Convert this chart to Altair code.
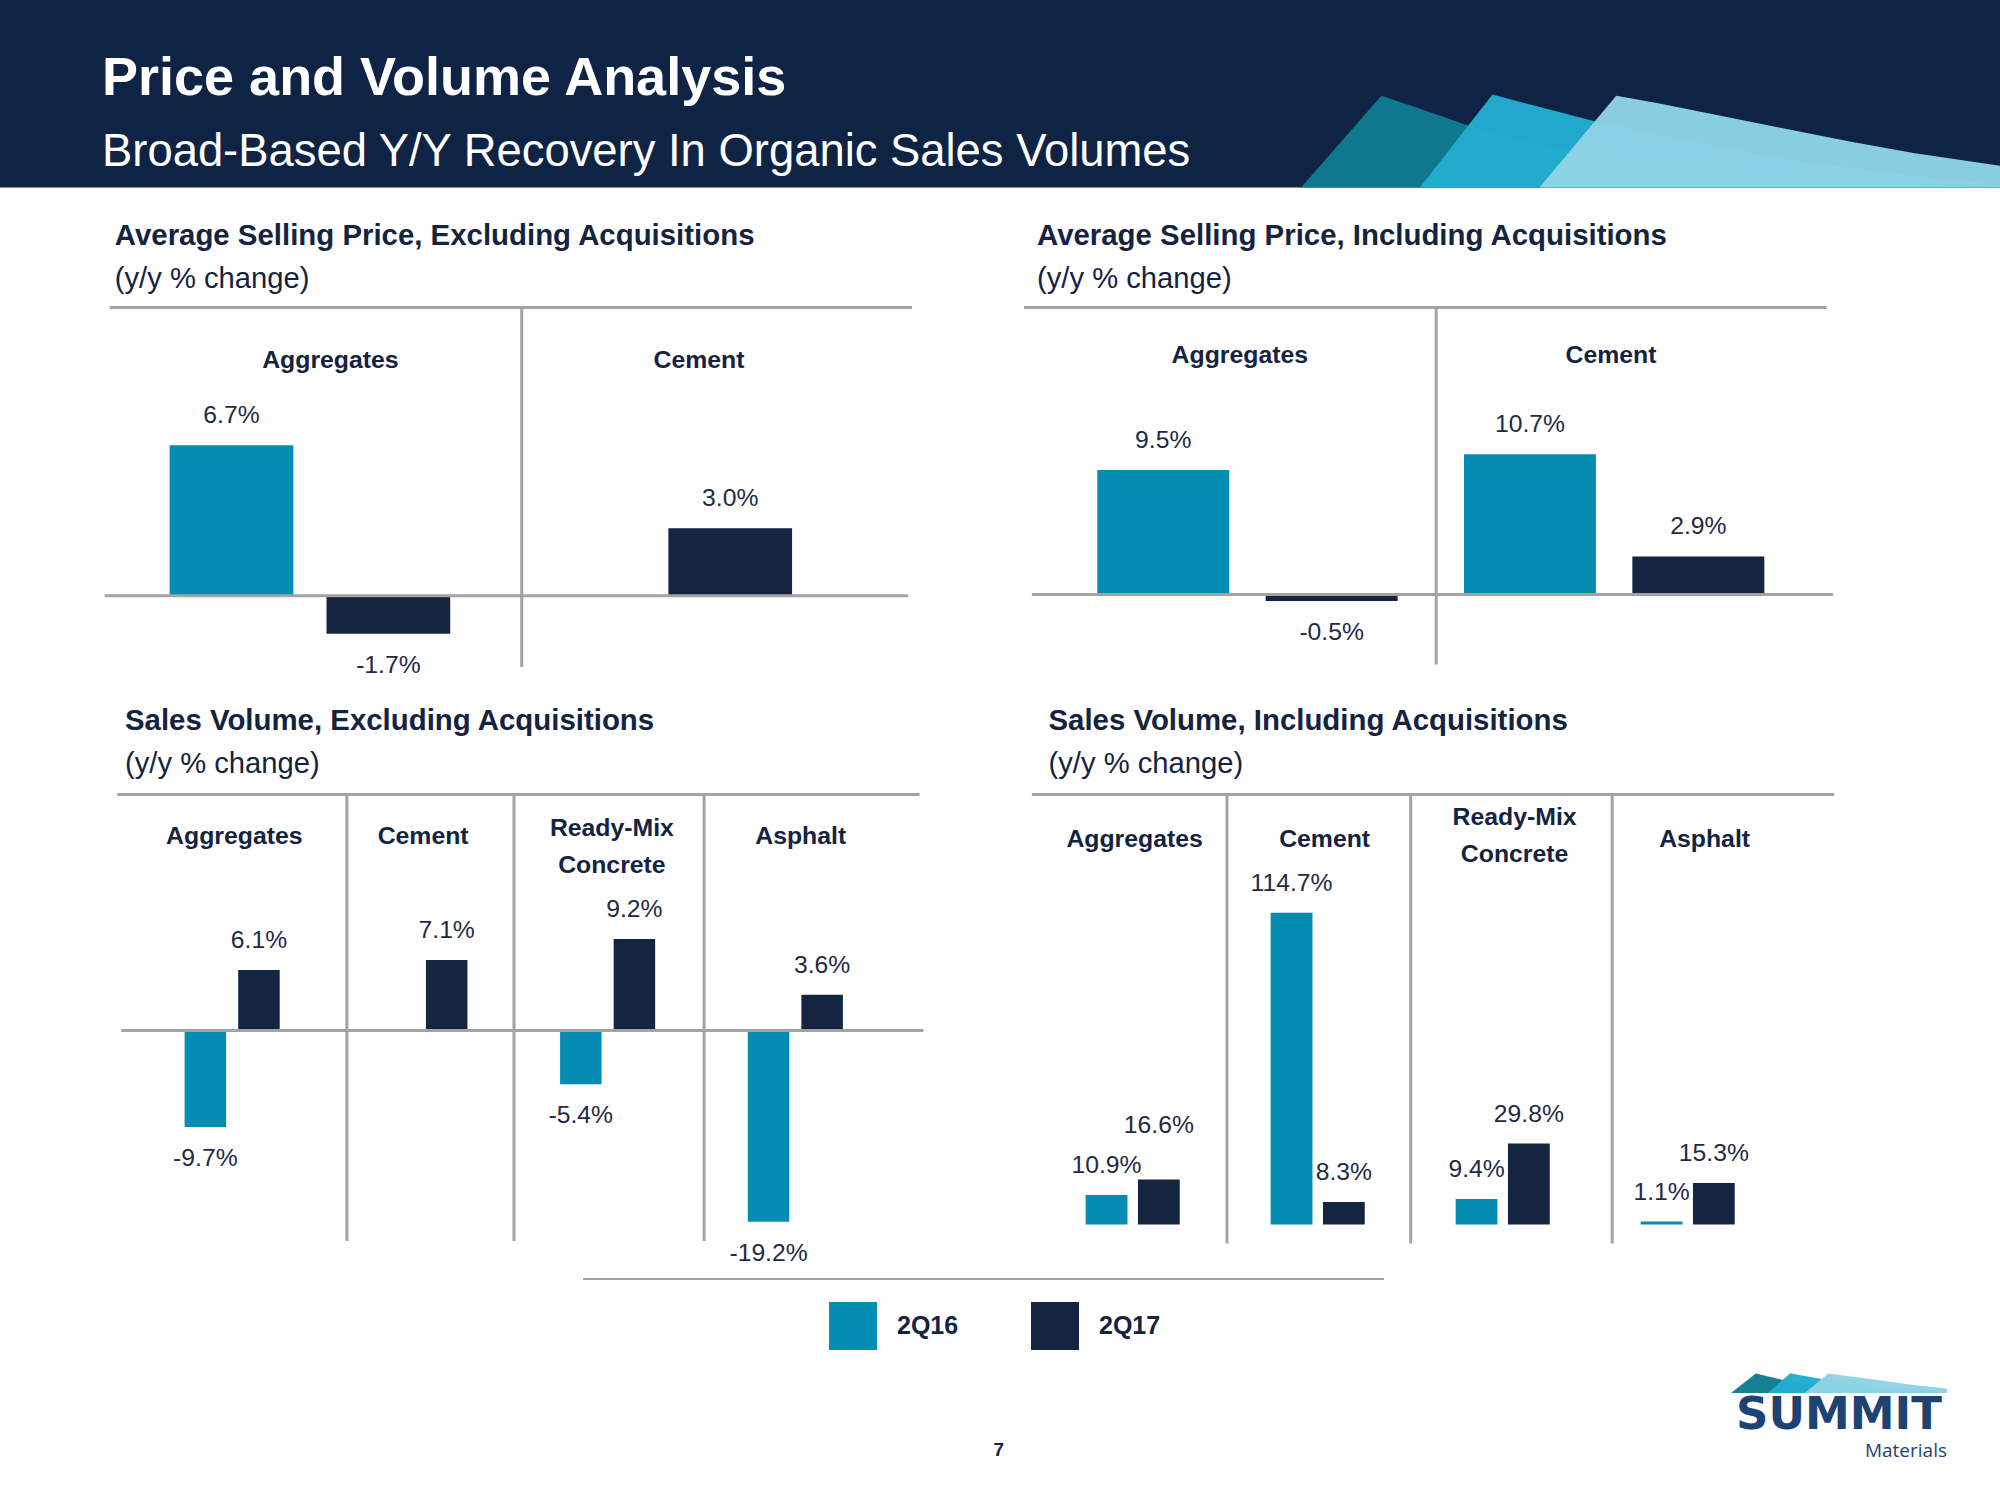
import altair as alt
import pandas as pd

# ---------------- data ----------------
series = ["2Q16", "2Q17"]
price_categories = ["Aggregates", "Cement"]
volume_categories = ["Aggregates", "Cement", "Ready-Mix Concrete", "Asphalt"]

asp_excl_2q16 = [6.7, None]
asp_excl_2q17 = [-1.7, 3.0]
asp_incl_2q16 = [9.5, 10.7]
asp_incl_2q17 = [-0.5, 2.9]
vol_excl_2q16 = [-9.7, None, -5.4, -19.2]
vol_excl_2q17 = [6.1, 7.1, 9.2, 3.6]
vol_incl_2q16 = [10.9, 114.7, 9.4, 1.1]
vol_incl_2q17 = [16.6, 8.3, 29.8, 15.3]

# decorative "summit" sails (normalised shape outlines)
sail_dark_u = [0.0, 0.115, 0.164, 0.237, 0.328, 0.511, 0.693, 1.0]
sail_dark_v = [0.0, 0.973, 0.851, 0.662, 0.473, 0.230, 0.095, 0.0]
sail_mid_u = [0.170, 0.274, 0.328, 0.420, 0.511, 0.693, 0.876, 1.0]
sail_mid_v = [0.0, 0.986, 0.878, 0.703, 0.554, 0.297, 0.122, 0.027]
sail_light_u = [0.341, 0.451, 0.511, 0.602, 0.693, 0.785, 0.876, 1.0]
sail_light_v = [0.0, 0.973, 0.892, 0.757, 0.622, 0.486, 0.365, 0.230]

# ---------------- style ----------------
W, H = 2000, 1500
FONT = "Liberation Sans, Arial, sans-serif"
NAVY = "#14233f"
TEXT = "#1e2b45"
TEAL = "#058cb3"
BARNAVY = "#152541"
HEADER_BG = "#0f2345"
GREY = "#a3a3a3"
SAIL_COLORS = ["#0f7b91", "#22acd0", "#8ed3e5"]
VAL_SIZE = 24.7
HDR_SIZE = 24.8

ONE = pd.DataFrame({"k": [0]})


def text_at(txt, x, y, size, weight="normal", color=NAVY, align="left",
            baseline="alphabetic", font=FONT):
    return alt.Chart(ONE).mark_text(
        align=align, baseline=baseline, fontSize=size, fontWeight=weight,
        font=font, color=color
    ).encode(text=alt.value(txt), x=alt.value(x), y=alt.value(y))


def hrule(x1, x2, y, color=GREY, w=3):
    return alt.Chart(ONE).mark_rule(color=color, strokeWidth=w).encode(
        x=alt.value(x1), x2=alt.value(x2), y=alt.value(y))


def vrule(x, y1, y2, color=GREY, w=3):
    return alt.Chart(ONE).mark_rule(color=color, strokeWidth=w).encode(
        x=alt.value(x), y=alt.value(y1), y2=alt.value(y2))


def panel_df(cats, v16, v17):
    rows = []
    for s, vals in zip(series, [v16, v17]):
        for c, v in zip(cats, vals):
            if v is None:
                continue
            rows.append({"category": c, "series": s, "value": v,
                         "label": f"{v:.1f}%"})
    return pd.DataFrame(rows)


color_enc = alt.Color(
    "series:N",
    scale=alt.Scale(domain=series, range=[TEAL, BARNAVY]),
    legend=alt.Legend(
        orient="none", legendX=829, legendY=1302, direction="horizontal",
        title=None, symbolType="square", symbolSize=2304, symbolStrokeWidth=0,
        symbolOpacity=1, labelFont=FONT, labelFontSize=25,
        labelFontWeight="bold", labelColor=NAVY, labelOffset=20,
        columnPadding=72, padding=0, offset=0,
    ),
)


def panel(cats, v16, v17, L):
    df = panel_df(cats, v16, v17)
    n = len(cats)
    band = (L["bar_range"][1] - L["bar_range"][0]) / n
    pi = 1 - L["bar_w"] / L["bar_step"]
    po = (band / L["bar_step"] - 2 + pi) / 2
    x = alt.X("category:N", axis=None,
              scale=alt.Scale(domain=cats, range=L["bar_range"],
                              paddingInner=0, paddingOuter=0))
    xo = alt.XOffset("series:N",
                     scale=alt.Scale(domain=series, paddingInner=pi, paddingOuter=po))
    zero, ppu = L["zero"], L["ppu"]
    ysc = alt.Scale(domain=[(zero - H) / ppu, zero / ppu], range=[H, 0], nice=False)
    bars = alt.Chart(df).mark_bar().encode(
        x=x, xOffset=xo,
        y=alt.Y("value:Q", scale=ysc, axis=None, stack=None),
        color=color_enc,
    )
    up, dn = 29 / ppu, 32 / ppu
    nudge_expr = "0"
    for key, px in L.get("nudge", {}).items():
        nudge_expr = (f"((datum.category + '|' + datum.series) == '{key}' ? {px / ppu} : 0)"
                      f" + {nudge_expr}")
    labels = alt.Chart(df).transform_calculate(
        ly=f"(datum.value >= 0 ? datum.value + {up} : datum.value - {dn}) + {nudge_expr}"
    ).mark_text(font=FONT, fontSize=VAL_SIZE, color=TEXT, baseline="middle").encode(
        x=x, xOffset=xo,
        y=alt.Y("ly:Q", scale=ysc, axis=None),
        text="label:N",
    )
    headers = alt.Chart(pd.DataFrame({"category": cats})).transform_calculate(
        hl="replace(datum.category, 'Mix ', 'Mix\\n')",
        hy=f"indexof(datum.category, 'Mix ') >= 0 ? {L['hdr_y2']} : {L['hdr_y']}",
    ).mark_text(
        font=FONT, fontSize=HDR_SIZE, fontWeight="bold", color=NAVY,
        lineBreak="\n", baseline="middle", lineHeight=37,
    ).encode(
        x=alt.X("category:N", axis=None,
                scale=alt.Scale(domain=cats, range=L["hdr_range"])),
        y=alt.Y("hy:Q", axis=None, scale=alt.Scale(domain=[0, H], range=[0, H], nice=False)),
        text="hl:N",
    )
    parts = [
        text_at(L["title"], L["tx"], L["ty"], 29.4, "bold"),
        text_at("(y/y % change)", L["tx"], L["ty"] + 43, 29.2),
        hrule(L["top"][0], L["top"][1], L["top"][2]),
    ]
    for sx in L["seps"]:
        parts.append(vrule(sx, L["sep_y"][0], L["sep_y"][1]))
    parts.append(headers)
    parts.append(alt.layer(bars, labels))
    if L.get("zline"):
        zl = L["zline"]
        parts.append(hrule(zl[0], zl[1], zero))
    return parts


def sails(xr, yr):
    out = []
    for (u, v), col in zip([(sail_dark_u, sail_dark_v), (sail_mid_u, sail_mid_v),
                            (sail_light_u, sail_light_v)], SAIL_COLORS):
        d = pd.DataFrame({"u": u, "v": v})
        out.append(alt.Chart(d).mark_area(color=col, opacity=0.97).encode(
            x=alt.X("u:Q", axis=None, scale=alt.Scale(domain=[0, 1], range=xr, nice=False)),
            y=alt.Y("v:Q", axis=None, stack=None,
                    scale=alt.Scale(domain=[0, 1], range=yr, nice=False)),
        ))
    return alt.layer(*out)


layers = []
# header band
layers.append(alt.Chart(ONE).mark_rect(color=HEADER_BG).encode(
    x=alt.value(0), x2=alt.value(W), y=alt.value(0), y2=alt.value(187.5)))
layers.append(sails([1301, 2000], [187.5, 93.1]))
layers.append(text_at("Price and Volume Analysis", 102, 94.5, 54, "bold", "white"))
layers.append(text_at("Broad-Based Y/Y Recovery In Organic Sales Volumes", 102, 166, 45.4,
                      "normal", "white"))

P1 = dict(title="Average Selling Price, Excluding Acquisitions", tx=114.8, ty=245,
          top=(109.7, 912, 307.4), seps=[521.7], sep_y=(307.4, 667),
          hdr_y=361, hdr_y2=361, hdr_range=[146.1, 883.3],
          bar_range=[139, 822.7], bar_w=123.7, bar_step=156.9,
          zero=595.7, ppu=22.45, zline=(104.6, 908.2))
P2 = dict(title="Average Selling Price, Including Acquisitions", tx=1037, ty=245,
          top=(1024, 1826.5, 307.4), seps=[1436.2], sep_y=(307.4, 664.5),
          hdr_y=356, hdr_y2=356, hdr_range=[1054.2, 1796.6],
          bar_range=[1064.1, 1797.5], bar_w=132, bar_step=168.4,
          zero=594.4, ppu=13.1, zline=(1031.9, 1833))
P3 = dict(title="Sales Volume, Excluding Acquisitions", tx=125, ty=730,
          top=(117.3, 919.6, 794.6), seps=[346.9, 514, 704.1], sep_y=(794.6, 1241),
          hdr_y=837, hdr_y2=829, hdr_range=[139.9, 895.1],
          bar_range=[138.3, 889.2], bar_w=41.5, bar_step=53.6,
          zero=1030.6, ppu=9.95, zline=(121.2, 923.5))
P4 = dict(title="Sales Volume, Including Acquisitions", tx=1048.5, ty=730,
          top=(1031.9, 1834.2, 794.6), seps=[1227, 1410.7, 1612.2], sep_y=(794.6, 1243.6),
          hdr_y=840, hdr_y2=818, hdr_range=[1039.6, 1799.6],
          bar_range=[1040.2, 1780.2], bar_w=41.8, bar_step=52.3,
          zero=1224.5, ppu=2.717, nudge={"Aggregates|2Q17": 24})

layers += panel(price_categories, asp_excl_2q16, asp_excl_2q17, P1)
layers += panel(price_categories, asp_incl_2q16, asp_incl_2q17, P2)
layers += panel(volume_categories, vol_excl_2q16, vol_excl_2q17, P3)
layers += panel(volume_categories, vol_incl_2q16, vol_incl_2q17, P4)

# legend separator, page number, logo
layers.append(hrule(583, 1384, 1279, GREY, 2))
layers.append(text_at("7", 998.7, 1450, 19, "bold", NAVY, "center", "middle"))
layers.append(sails([1731, 1947], [1393, 1373]))
layers.append(text_at("SUMMIT", 1839, 1429, 45, "bold", "#1d4373", "center",
                      "alphabetic", "DejaVu Sans"))
layers.append(text_at("Materials", 1947, 1457, 19, "normal", "#1d4373", "right",
                      "alphabetic", "Open Sans"))

chart = alt.layer(*layers).resolve_scale(
    x="independent", y="independent", xOffset="independent"
).properties(
    width=W, height=H, autosize=alt.AutoSizeParams(type="none"), padding=0,
    background="white",
).configure_view(stroke=None)

chart.save("out.html", embed_options={"renderer": "svg", "actions": False})
